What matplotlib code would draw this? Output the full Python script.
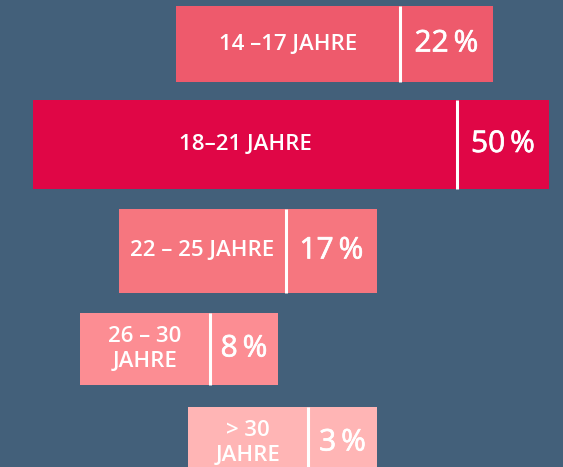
import matplotlib.pyplot as plt
import matplotlib.patheffects as pe

# data
labels = ["14 –17 JAHRE", "18–21 JAHRE", "22 – 25 JAHRE", "26 – 30\nJAHRE", "> 30\nJAHRE"]
shares = [22, 50, 17, 8, 3]
colors = ["#ee5a6c", "#e00646", "#f6767f", "#fc8d93", "#ffb5b5"]

# layout in pixels (figure is 563 x 467)
lefts = [176, 33, 119, 80, 188]
label_w = [224, 424, 167, 130, 120]
pct_w = [93, 92, 91, 68, 69]
tops = [6, 100, 209, 313, 407]
heights = [76, 89, 84, 72, 72]

bg = "#43607a"
plt.rcParams['font.family'] = ['Open Sans', 'DejaVu Sans']

fig = plt.figure(figsize=(5.63, 4.67), dpi=100, facecolor=bg)
ax = fig.add_axes([0, 0, 1, 1])
ax.set_facecolor(bg)
ax.set_xlim(0, 563)
ax.set_ylim(467, 0)
ax.axis('off')

centers = [t + h / 2 for t, h in zip(tops, heights)]
widths = [a + b for a, b in zip(label_w, pct_w)]
ax.barh(centers, widths, left=lefts, height=heights, color=colors)

for i in range(len(shares)):
    split = lefts[i] + label_w[i]
    ax.vlines(split, tops[i], tops[i] + heights[i], color='white', lw=2.2)
    ax.text(lefts[i] + label_w[i] / 2, centers[i], labels[i], color='white',
            ha='center', va='center', fontsize=16, fontweight='semibold',
            linespacing=1.3)
    ax.text(split + pct_w[i] / 2, centers[i], f"{shares[i]}\u2009%", color='white',
            ha='center', va='center', fontsize=21.5, fontweight='normal',
            path_effects=[pe.withStroke(linewidth=0.5, foreground='white')])

plt.savefig('out.png', dpi=100, facecolor=bg)
